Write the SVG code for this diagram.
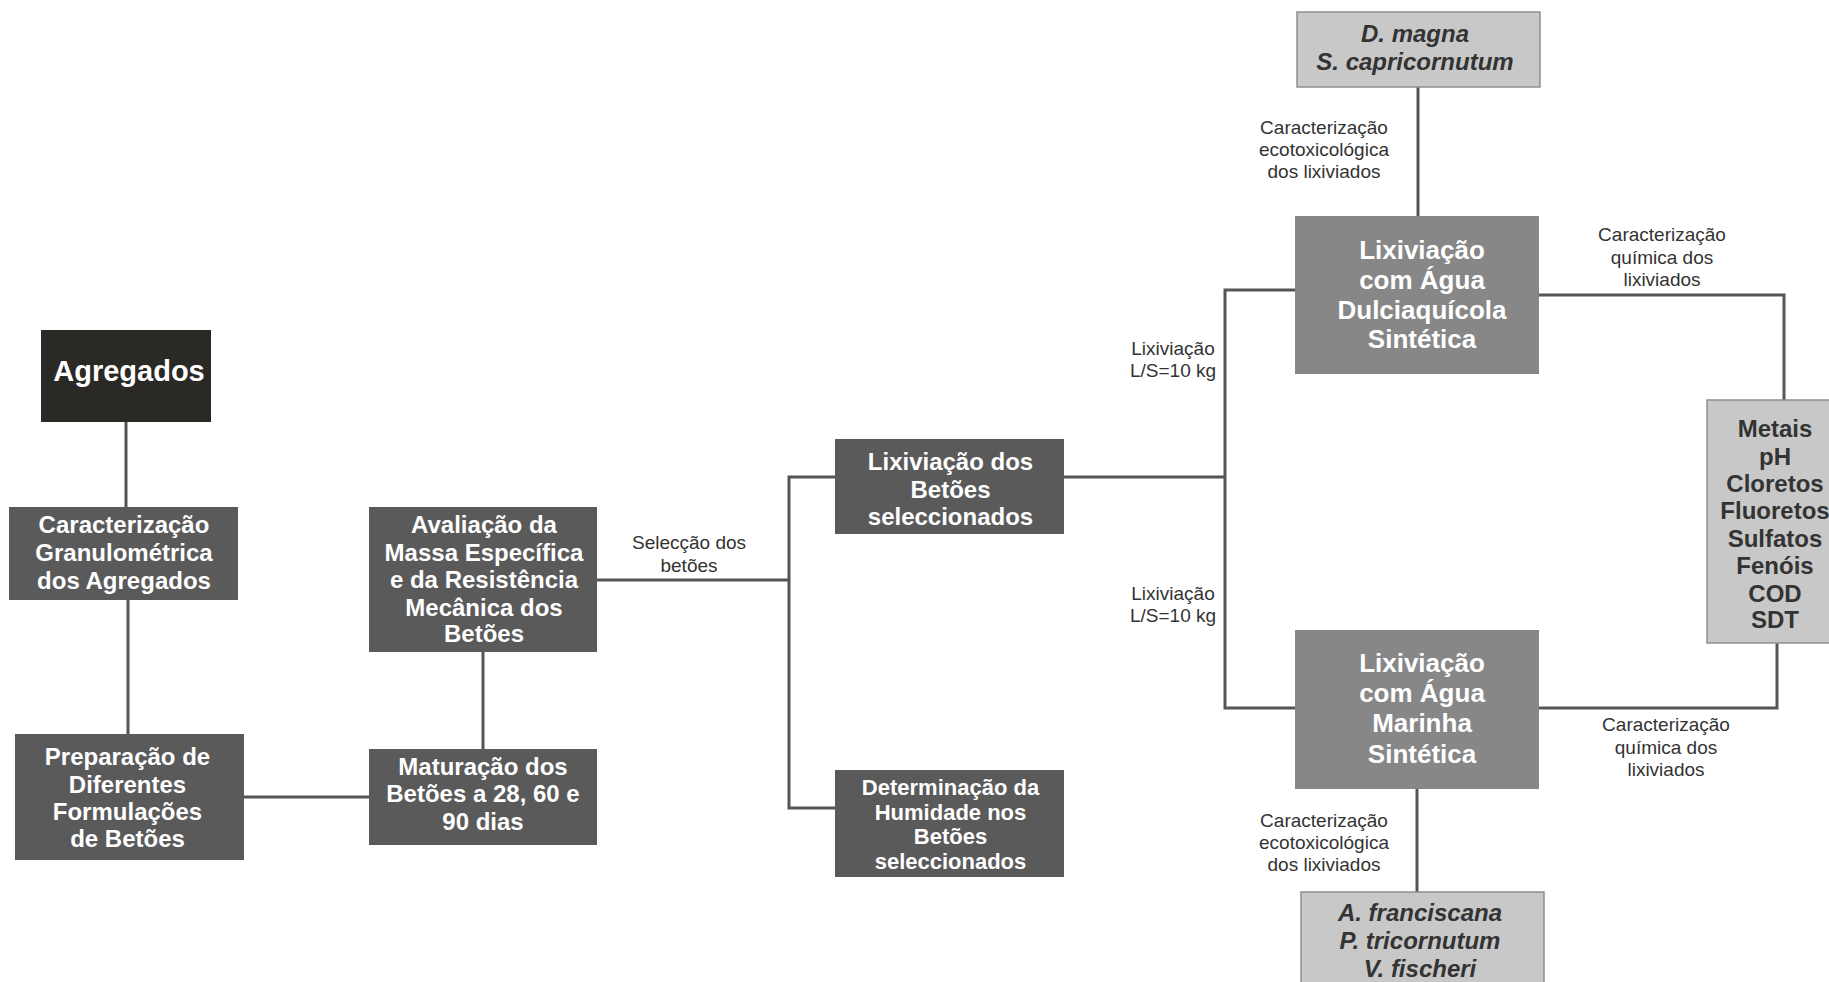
<svg xmlns="http://www.w3.org/2000/svg" width="1829" height="982" viewBox="0 0 1829 982">
<style>
.c{fill:none;stroke:#555555;stroke-width:3}
.dk{fill:#5a5a5a}
.md{fill:#878787}
.lt{fill:#c8c8c8;stroke:#8f8f8f;stroke-width:1.5}
.bt{font-family:"Liberation Sans",Arial,sans-serif;font-weight:bold;fill:#ffffff;text-anchor:middle;font-size:24px}
.dt{font-family:"Liberation Sans",Arial,sans-serif;font-weight:bold;fill:#333333;text-anchor:middle;font-size:24px}
.it{font-style:italic}
.lb{font-family:"Liberation Sans",Arial,sans-serif;fill:#333333;text-anchor:middle;font-size:19px}
</style>
<rect width="1829" height="982" fill="#ffffff"/>
<g id="connectors">
<line class="c" x1="126" y1="422" x2="126" y2="507"/>
<line class="c" x1="128" y1="600" x2="128" y2="734"/>
<line class="c" x1="244" y1="797" x2="369" y2="797"/>
<line class="c" x1="483" y1="652" x2="483" y2="749"/>
<line class="c" x1="597" y1="580" x2="789" y2="580"/>
<polyline class="c" points="835,477 789,477 789,808 835,808"/>
<line class="c" x1="1064" y1="477" x2="1225" y2="477"/>
<polyline class="c" points="1295,290 1225,290 1225,708 1295,708"/>
<line class="c" x1="1418" y1="87" x2="1418" y2="216"/>
<polyline class="c" points="1539,295 1784,295 1784,400"/>
<polyline class="c" points="1539,708 1777,708 1777,643"/>
<line class="c" x1="1417" y1="789" x2="1417" y2="892"/>
</g>
<g id="labels">
<text class="lb" x="689" y="549">Selecção dos</text>
<text class="lb" x="689" y="572">betões</text>
<text class="lb" x="1173" y="355">Lixiviação</text>
<text class="lb" x="1173" y="377">L/S=10 kg</text>
<text class="lb" x="1173" y="600">Lixiviação</text>
<text class="lb" x="1173" y="622">L/S=10 kg</text>
<text class="lb" x="1324" y="134">Caracterização</text>
<text class="lb" x="1324" y="156">ecotoxicológica</text>
<text class="lb" x="1324" y="178">dos lixiviados</text>
<text class="lb" x="1662" y="241">Caracterização</text>
<text class="lb" x="1662" y="264">química dos</text>
<text class="lb" x="1662" y="286">lixiviados</text>
<text class="lb" x="1666" y="731">Caracterização</text>
<text class="lb" x="1666" y="754">química dos</text>
<text class="lb" x="1666" y="776">lixiviados</text>
<text class="lb" x="1324" y="827">Caracterização</text>
<text class="lb" x="1324" y="849">ecotoxicológica</text>
<text class="lb" x="1324" y="871">dos lixiviados</text>
</g>
<g id="agregados">
<rect x="41" y="330" width="170" height="92" fill="#2b2926"/>
<text class="bt" x="129" y="381" style="font-size:29px">Agregados</text>
</g>
<g id="caracterizacao">
<rect class="dk" x="9" y="507" width="229" height="93"/>
<text class="bt" x="124" y="533">Caracterização</text>
<text class="bt" x="124" y="561">Granulométrica</text>
<text class="bt" x="124" y="589">dos Agregados</text>
</g>
<g id="preparacao">
<rect class="dk" x="15" y="734" width="229" height="126"/>
<text class="bt" x="127.5" y="765">Preparação de</text>
<text class="bt" x="127.5" y="793">Diferentes</text>
<text class="bt" x="127.5" y="820">Formulações</text>
<text class="bt" x="127.5" y="847">de Betões</text>
</g>
<g id="maturacao">
<rect class="dk" x="369" y="749" width="228" height="96"/>
<text class="bt" x="483" y="775">Maturação dos</text>
<text class="bt" x="483" y="802">Betões a 28, 60 e</text>
<text class="bt" x="483" y="830">90 dias</text>
</g>
<g id="avaliacao">
<rect class="dk" x="369" y="507" width="228" height="145"/>
<text class="bt" x="484" y="533">Avaliação da</text>
<text class="bt" x="484" y="561">Massa Específica</text>
<text class="bt" x="484" y="588">e da Resistência</text>
<text class="bt" x="484" y="616">Mecânica dos</text>
<text class="bt" x="484" y="642">Betões</text>
</g>
<g id="lixiviacao-betoes">
<rect class="dk" x="835" y="439" width="229" height="95"/>
<text class="bt" x="950.5" y="470">Lixiviação dos</text>
<text class="bt" x="950.5" y="498">Betões</text>
<text class="bt" x="950.5" y="525">seleccionados</text>
</g>
<g id="determinacao">
<rect class="dk" x="835" y="770" width="229" height="107"/>
<text class="bt" x="950.5" y="795" style="font-size:22px">Determinação da</text>
<text class="bt" x="950.5" y="820" style="font-size:22px">Humidade nos</text>
<text class="bt" x="950.5" y="844" style="font-size:22px">Betões</text>
<text class="bt" x="950.5" y="869" style="font-size:22px">seleccionados</text>
</g>
<g id="dulciaquicola">
<rect class="md" x="1295" y="216" width="244" height="158"/>
<text class="bt" x="1422" y="259" style="font-size:26px">Lixiviação</text>
<text class="bt" x="1422" y="289" style="font-size:26px">com Água</text>
<text class="bt" x="1422" y="319" style="font-size:26px">Dulciaquícola</text>
<text class="bt" x="1422" y="348" style="font-size:26px">Sintética</text>
</g>
<g id="marinha">
<rect class="md" x="1295" y="630" width="244" height="159"/>
<text class="bt" x="1422" y="672" style="font-size:26px">Lixiviação</text>
<text class="bt" x="1422" y="702" style="font-size:26px">com Água</text>
<text class="bt" x="1422" y="732" style="font-size:26px">Marinha</text>
<text class="bt" x="1422" y="763" style="font-size:26px">Sintética</text>
</g>
<g id="dmagna">
<rect class="lt" x="1297" y="12" width="243" height="75"/>
<text class="dt it" x="1415" y="42">D. magna</text>
<text class="dt it" x="1415" y="70">S. capricornutum</text>
</g>
<g id="afranciscana">
<rect class="lt" x="1301" y="892" width="243" height="95"/>
<text class="dt it" x="1420" y="921">A. franciscana</text>
<text class="dt it" x="1420" y="949">P. tricornutum</text>
<text class="dt it" x="1420" y="977">V. fischeri</text>
</g>
<g id="metais">
<rect class="lt" x="1707" y="400" width="130" height="243"/>
<text class="dt" x="1775" y="437">Metais</text>
<text class="dt" x="1775" y="465">pH</text>
<text class="dt" x="1775" y="492">Cloretos</text>
<text class="dt" x="1775" y="519">Fluoretos</text>
<text class="dt" x="1775" y="547">Sulfatos</text>
<text class="dt" x="1775" y="574">Fenóis</text>
<text class="dt" x="1775" y="602">COD</text>
<text class="dt" x="1775" y="628">SDT</text>
</g>
</svg>
